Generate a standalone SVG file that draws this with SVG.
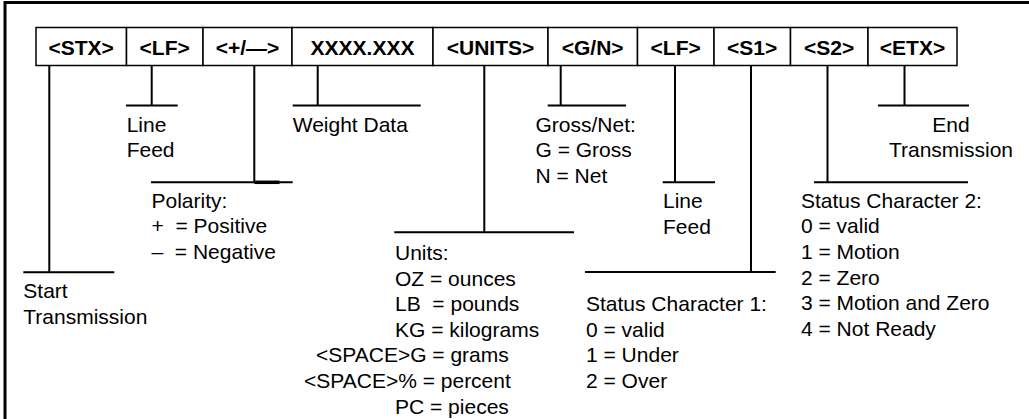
<svg xmlns="http://www.w3.org/2000/svg" width="1029" height="419" viewBox="0 0 1029 419">
<style>
.frame{fill:none;stroke:#000;stroke-width:3}
.box{fill:#fff;stroke:#000;stroke-width:1.5}
.lbl{font-family:"Liberation Sans",Arial,sans-serif;font-size:21px;font-weight:bold;fill:#000;text-anchor:middle}
.t{font-family:"Liberation Sans",Arial,sans-serif;font-size:21px;fill:#000;white-space:pre}
.c{text-anchor:middle}
.ln{stroke:#000;stroke-width:2;fill:none}
.thick{stroke:#000;stroke-width:3.5}
</style>
<rect width="1029" height="419" fill="#fff"/>
<rect class="frame" x="5" y="2.5" width="1100" height="500"/>

<g id="field-stx"><rect class="box" x="36" y="27.5" width="90.5" height="38"/><text class="lbl" x="81.2" y="54.5">&lt;STX&gt;</text></g>
<g id="field-lf1"><rect class="box" x="126.5" y="27.5" width="76.5" height="38"/><text class="lbl" x="164.7" y="54.5">&lt;LF&gt;</text></g>
<g id="field-sign"><rect class="box" x="203" y="27.5" width="89" height="38"/><text class="lbl" x="247.5" y="54.5">&lt;+/—&gt;</text></g>
<g id="field-weight"><rect class="box" x="292" y="27.5" width="141" height="38"/><text class="lbl" x="362.5" y="54.5">XXXX.XXX</text></g>
<g id="field-units"><rect class="box" x="433" y="27.5" width="115" height="38"/><text class="lbl" x="490.5" y="54.5">&lt;UNITS&gt;</text></g>
<g id="field-gn"><rect class="box" x="548" y="27.5" width="89.5" height="38"/><text class="lbl" x="592.7" y="54.5">&lt;G/N&gt;</text></g>
<g id="field-lf2"><rect class="box" x="637.5" y="27.5" width="76.5" height="38"/><text class="lbl" x="675.7" y="54.5">&lt;LF&gt;</text></g>
<g id="field-s1"><rect class="box" x="714" y="27.5" width="76.5" height="38"/><text class="lbl" x="752.2" y="54.5">&lt;S1&gt;</text></g>
<g id="field-s2"><rect class="box" x="790.5" y="27.5" width="77.5" height="38"/><text class="lbl" x="829.2" y="54.5">&lt;S2&gt;</text></g>
<g id="field-etx"><rect class="box" x="868" y="27.5" width="89" height="38"/><text class="lbl" x="912.5" y="54.5">&lt;ETX&gt;</text></g>

<g id="connectors">
<path class="ln" d="M49.3 65.5V272.3M23.3 272.3H114.3"/>
<path class="ln" d="M151.7 65.5V105.5M126 105.5H177.7"/>
<path class="ln" d="M254.3 65.5V182.3M151 182.3H292.7"/>
<line class="thick" x1="254.3" y1="182.3" x2="279.5" y2="182.3"/>
<path class="ln" d="M317.7 65.5V105.5M292.7 105.5H420.7"/>
<path class="ln" d="M484.3 65.5V232.3M394.3 232.3H574"/>
<path class="ln" d="M560.7 65.5V105.5M547.7 105.5H626"/>
<path class="ln" d="M675 65.5V182.3M662.7 182.3H715"/>
<path class="ln" d="M751 65.5V272M585 272H775.7"/>
<path class="ln" d="M827.5 65.5V182.3M814 182.3H968"/>
<path class="ln" d="M904.5 65.5V105.5M878 105.5H969"/>
</g>

<g id="note-stx"><text class="t" x="23.3" y="298.3">Start</text><text class="t" x="23.3" y="324">Transmission</text></g>
<g id="note-lf1"><text class="t" x="126.7" y="131.5">Line</text><text class="t" x="126.7" y="157.1">Feed</text></g>
<g id="note-sign"><text class="t" x="151.5" y="207.7">Polarity:</text><text class="t" x="151.5" y="233.3">+  = Positive</text><text class="t" x="151.5" y="258.9">–  = Negative</text></g>
<g id="note-weight"><text class="t" x="292.7" y="131.5">Weight Data</text></g>
<g id="note-units"><text class="t" x="395" y="260">Units:</text><text class="t" x="395" y="285.6">OZ = ounces</text><text class="t" x="395" y="311.2">LB  = pounds</text><text class="t" x="395" y="336.8">KG = kilograms</text><text class="t" x="316" y="362.4">&lt;SPACE&gt;G = grams</text><text class="t" x="304" y="388">&lt;SPACE&gt;% = percent</text><text class="t" x="395" y="413.6">PC = pieces</text></g>
<g id="note-gn"><text class="t" x="535.5" y="131.5">Gross/Net:</text><text class="t" x="535.5" y="157.1">G = Gross</text><text class="t" x="535.5" y="182.7">N = Net</text></g>
<g id="note-lf2"><text class="t" x="663" y="208.3">Line</text><text class="t" x="663" y="233.9">Feed</text></g>
<g id="note-s1"><text class="t" x="586" y="311.2">Status Character 1:</text><text class="t" x="586" y="336.8">0 = valid</text><text class="t" x="586" y="362.4">1 = Under</text><text class="t" x="586" y="388">2 = Over</text></g>
<g id="note-s2"><text class="t" x="801" y="207.7">Status Character 2:</text><text class="t" x="801" y="233.3">0 = valid</text><text class="t" x="801" y="258.9">1 = Motion</text><text class="t" x="801" y="284.5">2 = Zero</text><text class="t" x="801" y="310.1">3 = Motion and Zero</text><text class="t" x="801" y="335.7">4 = Not Ready</text></g>
<g id="note-etx"><text class="t c" x="951" y="131.5">End</text><text class="t c" x="951" y="157.1">Transmission</text></g>
</svg>
